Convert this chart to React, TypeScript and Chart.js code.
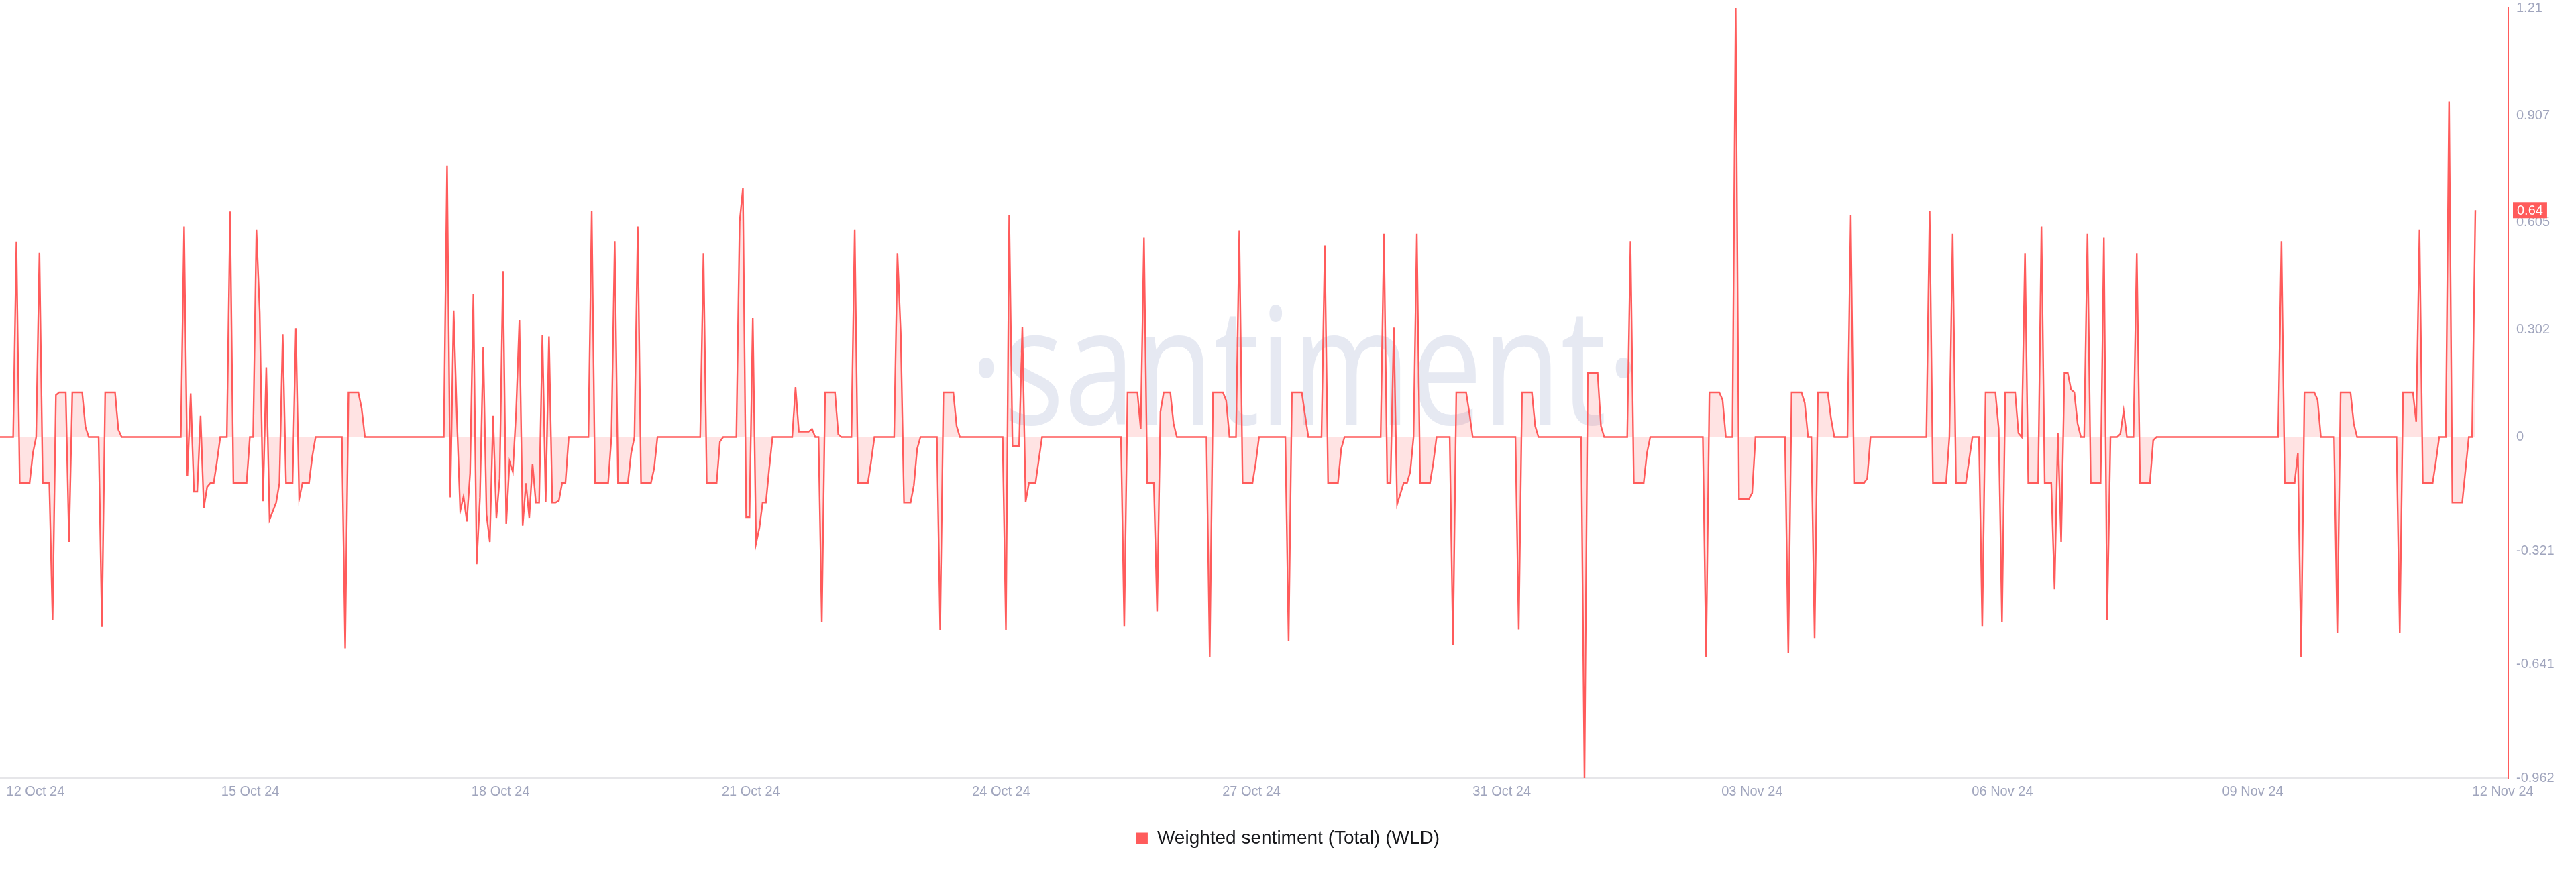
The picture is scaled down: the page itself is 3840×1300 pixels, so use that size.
import React, { useEffect, useRef } from "react";
import { Chart, registerables } from "chart.js";

Chart.register(...registerables);

// Hourly weighted sentiment values, one array per ~3-day stretch of the axis
const sentimentOct12 = [
  0, 0, 0, 0, 0, 0.55, -0.13, -0.13, -0.13, -0.13,
  -0.045, 0, 0.52, -0.13, -0.13, -0.13, -0.516, 0.118, 0.126, 0.126,
  0.126, -0.296, 0.126, 0.126, 0.126, 0.126, 0.028, 0, 0, 0,
  0, -0.536, 0.126, 0.126, 0.126, 0.126, 0.021, 0, 0, 0,
  0, 0, 0, 0, 0, 0, 0, 0, 0, 0,
  0, 0, 0, 0, 0, 0, 0.594, -0.11, 0.123, -0.154,
  -0.154, 0.06, -0.2, -0.141, -0.13, -0.13, -0.069, 0, 0, 0,
  0.636, -0.13, -0.13, -0.13, -0.13, -0.13,
];
const sentimentOct15 = [
  0, 0, 0.584, 0.352, -0.181, 0.197, -0.233, -0.209, -0.185, -0.13,
  0.29, -0.13, -0.13, -0.13, 0.307, -0.175, -0.13, -0.13, -0.13, -0.054,
  0, 0, 0, 0, 0, 0, 0, 0, 0, -0.596,
  0.126, 0.126, 0.126, 0.126, 0.081, 0, 0, 0, 0, 0,
  0, 0, 0, 0, 0, 0, 0, 0, 0, 0,
  0, 0, 0, 0, 0, 0, 0, 0, 0, 0,
  0.766, -0.17, 0.357, 0.05, -0.209, -0.168, -0.238, -0.102, 0.402, -0.359,
  -0.17, 0.253, -0.219, -0.296, 0.06, -0.228,
];
const sentimentOct18 = [
  -0.117, 0.468, -0.245, -0.069, -0.098, 0.072, 0.33, -0.25, -0.13, -0.228,
  -0.075, -0.185, -0.185, 0.288, -0.183, 0.284, -0.185, -0.185, -0.18, -0.13,
  -0.13, 0, 0, 0, 0, 0, 0, 0, 0.637, -0.13,
  -0.13, -0.13, -0.13, -0.13, 0, 0.551, -0.13, -0.13, -0.13, -0.13,
  -0.045, 0, 0.594, -0.13, -0.13, -0.13, -0.13, -0.088, 0, 0,
  0, 0, 0, 0, 0, 0, 0, 0, 0, 0,
  0, 0, 0.519, -0.13, -0.13, -0.13, -0.13, -0.013, 0, 0,
  0, 0, 0, 0.608, 0.702, -0.226,
];
const sentimentOct21 = [
  -0.226, 0.336, -0.3, -0.257, -0.185, -0.185, -0.088, 0, 0, 0,
  0, 0, 0, 0, 0.141, 0.015, 0.015, 0.015, 0.015, 0.023,
  0, 0, -0.523, 0.126, 0.126, 0.126, 0.126, 0.008, 0, 0,
  0, 0, 0.584, -0.13, -0.13, -0.13, -0.13, -0.069, 0, 0,
  0, 0, 0, 0, 0, 0.519, 0.294, -0.185, -0.185, -0.185,
  -0.136, -0.033, 0, 0, 0, 0, 0, 0, -0.544, 0.126,
  0.126, 0.126, 0.126, 0.031, 0, 0, 0, 0, 0, 0,
  0, 0, 0, 0, 0, 0,
];
const sentimentOct24 = [
  0, 0, -0.544, 0.627, -0.025, -0.025, -0.025, 0.311, -0.183, -0.13,
  -0.13, -0.13, -0.064, 0, 0, 0, 0, 0, 0, 0,
  0, 0, 0, 0, 0, 0, 0, 0, 0, 0,
  0, 0, 0, 0, 0, 0, 0, 0, -0.535, 0.126,
  0.126, 0.126, 0.126, 0.023, 0.562, -0.13, -0.13, -0.13, -0.492, 0.072,
  0.126, 0.126, 0.126, 0.038, 0, 0, 0, 0, 0, 0,
  0, 0, 0, 0, -0.62, 0.126, 0.126, 0.126, 0.126, 0.103,
  0, 0, 0, 0.583, -0.13, -0.13,
];
const sentimentOct27 = [
  -0.13, -0.13, -0.073, 0, 0, 0, 0, 0, 0, 0,
  0, 0, -0.576, 0.126, 0.126, 0.126, 0.126, 0.062, 0, 0,
  0, 0, 0, 0.541, -0.13, -0.13, -0.13, -0.13, -0.033, 0,
  0, 0, 0, 0, 0, 0, 0, 0, 0, 0,
  0, 0.573, -0.13, -0.13, 0.309, -0.19, -0.16, -0.13, -0.13, -0.098,
  0, 0.573, -0.13, -0.13, -0.13, -0.13, -0.073, 0, 0, 0,
  0, 0, -0.586, 0.126, 0.126, 0.126, 0.126, 0.067, 0, 0,
  0, 0, 0, 0, 0, 0,
];
const sentimentOct31 = [
  0, 0, 0, 0, 0, 0, -0.543, 0.126, 0.126, 0.126,
  0.126, 0.031, 0, 0, 0, 0, 0, 0, 0, 0,
  0, 0, 0, 0, 0, 0, -0.962, 0.181, 0.181, 0.181,
  0.181, 0.031, 0, 0, 0, 0, 0, 0, 0, 0,
  0.551, -0.13, -0.13, -0.13, -0.13, -0.045, 0, 0, 0, 0,
  0, 0, 0, 0, 0, 0, 0, 0, 0, 0,
  0, 0, 0, -0.62, 0.126, 0.126, 0.126, 0.126, 0.105, 0,
  0, 0, 1.21, -0.175, -0.175, -0.175,
];
const sentimentNov03 = [
  -0.175, -0.158, 0, 0, 0, 0, 0, 0, 0, 0,
  0, 0, -0.61, 0.126, 0.126, 0.126, 0.126, 0.096, 0, 0,
  -0.567, 0.126, 0.126, 0.126, 0.126, 0.052, 0, 0, 0, 0,
  0, 0.627, -0.13, -0.13, -0.13, -0.13, -0.117, 0, 0, 0,
  0, 0, 0, 0, 0, 0, 0, 0, 0, 0,
  0, 0, 0, 0, 0, 0.637, -0.13, -0.13, -0.13, -0.13,
  -0.13, 0, 0.573, -0.13, -0.13, -0.13, -0.13, -0.064, 0, 0,
  0, -0.535, 0.126, 0.126, 0.126, 0.126,
];
const sentimentNov06 = [
  0.023, -0.523, 0.126, 0.126, 0.126, 0.126, 0.011, 0, 0.519, -0.13,
  -0.13, -0.13, -0.13, 0.594, -0.13, -0.13, -0.13, -0.429, 0.012, -0.296,
  0.181, 0.181, 0.134, 0.126, 0.038, 0, 0, 0.573, -0.13, -0.13,
  -0.13, -0.13, 0.562, -0.516, 0, 0, 0, 0.009, 0.074, 0,
  0, 0, 0.519, -0.13, -0.13, -0.13, -0.13, -0.009, 0, 0,
  0, 0, 0, 0, 0, 0, 0, 0, 0, 0,
  0, 0, 0, 0, 0, 0, 0, 0, 0, 0,
  0, 0, 0, 0, 0, 0,
];
const sentimentNov09 = [
  0, 0, 0, 0, 0, 0, 0, 0, 0, 0,
  0.551, -0.13, -0.13, -0.13, -0.13, -0.045, -0.62, 0.126, 0.126, 0.126,
  0.126, 0.105, 0, 0, 0, 0, 0, -0.553, 0.126, 0.126,
  0.126, 0.126, 0.038, 0, 0, 0, 0, 0, 0, 0,
  0, 0, 0, 0, 0, 0, -0.553, 0.126, 0.126, 0.126,
  0.126, 0.043, 0.584, -0.13, -0.13, -0.13, -0.13, -0.069, 0, 0,
  0, 0.946, -0.185, -0.185, -0.185, -0.185, -0.093, 0, 0, 0.64,
];

const xTickLabels = [
  "12 Oct 24", "15 Oct 24", "18 Oct 24", "21 Oct 24", "24 Oct 24", "27 Oct 24",
  "31 Oct 24", "03 Nov 24", "06 Nov 24", "09 Nov 24", "12 Nov 24",
];
const yTickValues = [1.21, 0.907, 0.605, 0.302, 0, -0.321, -0.641, -0.962];
const seriesLabel = "Weighted sentiment (Total) (WLD)";

const sentiment = [
  ...sentimentOct12, ...sentimentOct15, ...sentimentOct18, ...sentimentOct21,
  ...sentimentOct24, ...sentimentOct27, ...sentimentOct31, ...sentimentNov03,
  ...sentimentNov06, ...sentimentNov09,
];

const RED = "#ff5b5b";
const FONT = '"Liberation Sans", Arial, Helvetica, sans-serif';

const watermarkPlugin = {
  id: "watermark",
  beforeDatasetsDraw(chart: any) {
    const { ctx } = chart;
    const text = "\u00b7santiment\u00b7";
    ctx.save();
    ctx.font = `243px "Open Sans", "DejaVu Sans", sans-serif`;
    const w = ctx.measureText(text).width;
    ctx.translate(1945, 633);
    ctx.scale(1000 / w, 1);
    ctx.fillStyle = "#e6e9f2";
    ctx.textAlign = "center";
    ctx.textBaseline = "alphabetic";
    ctx.fillText(text, 0, 0);
    ctx.restore();
  },
};

const lastValuePlugin = {
  id: "lastValue",
  afterDraw(chart: any) {
    const { ctx, chartArea } = chart;
    const ys = chart.scales.y;
    const data = chart.data.datasets[0].data;
    const last = data[data.length - 1].y;
    const py = ys.getPixelForValue(last);
    const label = String(last);
    ctx.save();
    ctx.font = `20px ${FONT}`;
    const tw = ctx.measureText(label).width;
    const x0 = chartArea.right + 7;
    ctx.fillStyle = RED;
    ctx.fillRect(x0, py - 12, tw + 12, 24);
    ctx.fillStyle = "#ffffff";
    ctx.textBaseline = "middle";
    ctx.textAlign = "left";
    ctx.fillText(label, x0 + 6, py + 1);
    ctx.restore();
  },
};

export default function App() {
  const ref = useRef<HTMLCanvasElement | null>(null);

  useEffect(() => {
    document.body.style.margin = "0";
    if (!ref.current) return;
    const lastIndex = sentiment.length - 1;
    const xMax = lastIndex + 10;
    const step = 76.14;
    const chart = new Chart(ref.current, {
      type: "line",
      data: {
        datasets: [
          {
            label: seriesLabel,
            data: sentiment.map((v, i) => ({ x: i, y: v })),
            borderColor: RED,
            backgroundColor: "rgba(255, 91, 91, 0.17)",
            fill: "origin",
            borderWidth: 2.4,
            pointRadius: 0,
            tension: 0,
          },
        ],
      },
      options: {
        animation: false,
        responsive: false,
        devicePixelRatio: 1,
        events: [],
        layout: { autoPadding: false, padding: { top: 12, left: 0, right: 0, bottom: 26 } },
        scales: {
          x: {
            type: "linear",
            min: 0,
            max: xMax,
            bounds: "data",
            grid: { display: false, drawTicks: false },
            border: { display: true, color: "#e6e6e9", width: 2 },
            afterBuildTicks: (scale: any) => {
              scale.ticks = xTickLabels.map((_, k) => ({ value: k === 0 ? 10.8 : k * step }));
            },
            afterFit: (scale: any) => {
              scale.height = 66;
              scale.paddingLeft = 0;
              scale.paddingRight = 0;
            },
            ticks: {
              autoSkip: false,
              maxRotation: 0,
              padding: 8,
              color: "#a0a5bd",
              font: { size: 20, family: FONT },
              callback: (_v: any, i: number) => xTickLabels[i],
            },
          },
          y: {
            type: "linear",
            position: "right",
            min: -0.962,
            max: 1.21,
            bounds: "data",
            grid: { display: false, drawTicks: false },
            border: { display: true, color: RED, width: 2 },
            afterBuildTicks: (scale: any) => {
              scale.ticks = yTickValues.map((v) => ({ value: v }));
            },
            afterFit: (scale: any) => {
              scale.width = 101;
              scale.paddingTop = 0;
              scale.paddingBottom = 0;
            },
            ticks: {
              padding: 12,
              color: "#a0a5bd",
              font: { size: 20, family: FONT },
              callback: (v: any) => String(v),
            },
          },
        },
        plugins: {
          tooltip: { enabled: false },
          legend: {
            display: true,
            position: "bottom",
            labels: {
              boxWidth: 17,
              boxHeight: 17,
              padding: 10,
              color: "#17181c",
              font: { size: 28, family: FONT },
              generateLabels: (c: any) =>
                c.data.datasets.map((ds: any, i: number) => ({
                  text: ds.label,
                  fillStyle: RED,
                  strokeStyle: RED,
                  lineWidth: 0,
                  hidden: false,
                  fontColor: "#17181c",
                  datasetIndex: i,
                })),
            },
          },
        },
      },
      plugins: [watermarkPlugin, lastValuePlugin],
    } as any);
    return () => chart.destroy();
  }, []);

  return (
    <div style={{ position: "absolute", left: 0, top: 0, width: 3840, height: 1300, background: "#fff" }}>
      <canvas ref={ref} width={3840} height={1300} style={{ display: "block" }} />
    </div>
  );
}
